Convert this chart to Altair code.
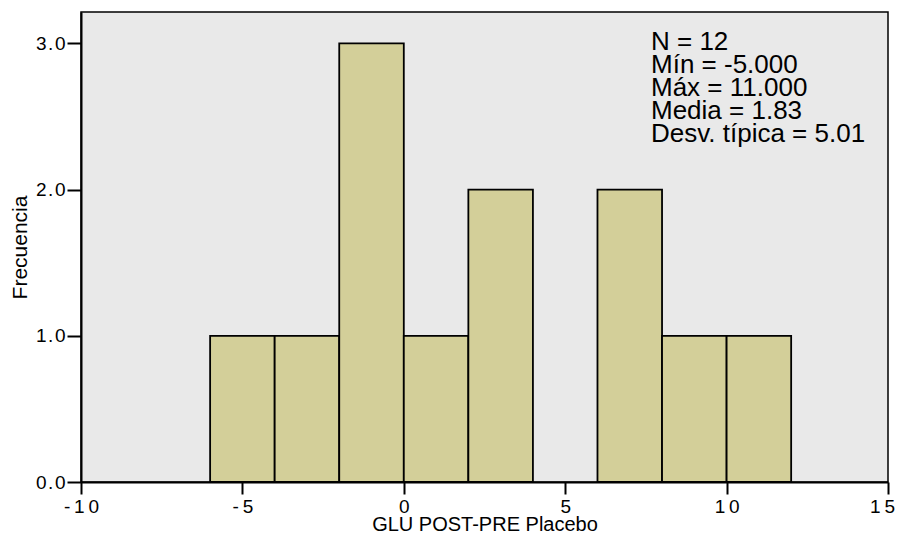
import altair as alt
import pandas as pd

# Histogram bins (width 2) and frequencies
bin_start = [-6, -4, -2, 0, 2, 4, 6, 8, 10]
bin_end = [-4, -2, 0, 2, 4, 6, 8, 10, 12]
counts = [1, 1, 3, 1, 2, 0, 2, 1, 1]

x_ticks = [-10, -5, 0, 5, 10, 15]
y_ticks = [0, 1, 2, 3]

stats_lines = ["N = 12", "Mín = -5.000", "Máx = 11.000", "Media = 1.83", "Desv. típica = 5.01"]

df = pd.DataFrame({"start": bin_start, "end": bin_end, "count": counts})

FONT = "Liberation Sans"

bars = alt.Chart(df).transform_filter("datum.count > 0").mark_rect(
    fill="#D3CF99", stroke="black", strokeWidth=1.8
).encode(
    x=alt.X("start:Q",
            scale=alt.Scale(domain=[-10, 15], nice=False, zero=False),
            axis=alt.Axis(values=x_ticks, title="GLU POST-PRE Placebo",
                          labelExpr="join(split(toString(datum.value), ''), '\u2009')",
                          labelOffset={"condition": {"test": "datum.value == 15", "value": -6}, "value": 0},
                          tickSize=12, labelPadding=3,
                          titleBaseline="alphabetic", titleY=48,
                          titleFontSize=20)),
    x2="end:Q",
    y=alt.Y("count:Q",
            scale=alt.Scale(domain=[0, 3.215], nice=False),
            axis=alt.Axis(values=y_ticks, title="Frecuencia", format=".1f",
                          labelExpr="join(split(format(datum.value, '.1f'), ''), '\u200a')",
                          tickSize=14, labelPadding=2,
                          titleBaseline="alphabetic", titleX=-55,
                          titleFontSize=21)),
    y2=alt.datum(0),
)

stats = alt.Chart(pd.DataFrame({"t": [stats_lines]})).mark_text(
    align="left", baseline="alphabetic", font=FONT, fontSize=26,
    lineHeight=23, color="black"
).encode(
    x=alt.value(570), y=alt.value(38), text="t"
)

chart = (bars + stats).properties(
    width=807, height=470,
    autosize=alt.AutoSizeParams(type="none"),
    padding={"left": 73, "top": 4, "right": 8, "bottom": 52},
    background="white",
).configure_view(
    fill="#E9E9E9", stroke="black", strokeWidth=1.5
).configure_axis(
    grid=False, domainColor="black", domainWidth=2, tickColor="black",
    tickWidth=2, labelFont=FONT, titleFont=FONT, labelFontSize=19,
    titleFontWeight="normal", labelColor="black",
    titleColor="black", labelFlush=False, labelOverlap=False
)

chart.save("out.html", embed_options={"renderer": "svg", "actions": False})
